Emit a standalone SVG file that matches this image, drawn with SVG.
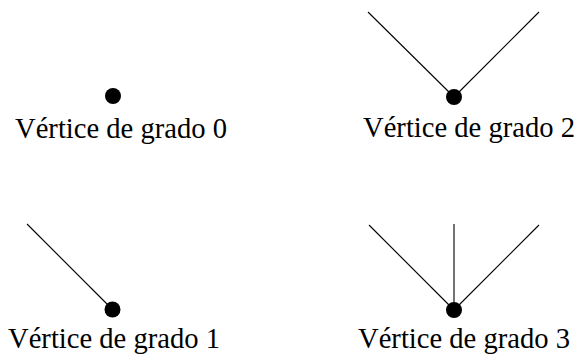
<svg xmlns="http://www.w3.org/2000/svg" width="578" height="354" viewBox="0 0 578 354">
<style>
.v{fill:#000}
.e{stroke:#000;stroke-width:1.1;fill:none}
.t{font-family:"Liberation Serif","Times New Roman",serif;font-size:28.6px;fill:#000;text-anchor:middle}
</style>
<rect width="578" height="354" fill="#fff"/>
<g id="edges">
<line class="e" x1="368" y1="12" x2="454" y2="97"/>
<line class="e" x1="539" y1="12" x2="454" y2="97"/>
<line class="e" x1="27" y1="224" x2="112.5" y2="309.5"/>
<line class="e" x1="369" y1="225" x2="454" y2="310"/>
<line class="e" x1="454" y1="224" x2="454" y2="310"/>
<line class="e" x1="539" y1="225" x2="454" y2="310"/>
</g>
<g id="v0"><circle class="v" cx="113" cy="96" r="8"/><text class="t" x="121" y="138">Vértice de grado 0</text></g>
<g id="v2"><circle class="v" cx="454" cy="97" r="8"/><text class="t" x="469" y="137">Vértice de grado 2</text></g>
<g id="v1"><circle class="v" cx="112.5" cy="309.5" r="8"/><text class="t" x="114" y="348">Vértice de grado 1</text></g>
<g id="v3"><circle class="v" cx="454" cy="310" r="8"/><text class="t" x="464" y="348">Vértice de grado 3</text></g>
</svg>
